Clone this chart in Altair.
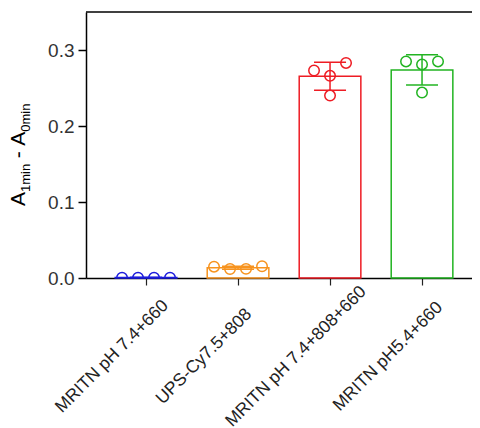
import altair as alt
import pandas as pd

groups = ["MRITN pH 7.4+660", "UPS-Cy7.5+808", "MRITN pH 7.4+808+660", "MRITN pH5.4+660"]
colors = ["#1c1cdc", "#f7931e", "#ee1c24", "#22b422"]
blue_vals = [0.0005, 0.0005, 0.0005, 0.0005]
orange_vals = [0.0149, 0.0118, 0.0120, 0.0155]
red_vals = [0.273, 0.266, 0.283, 0.240]
green_vals = [0.285, 0.281, 0.285, 0.244]
jit_spread = [-1.5, -0.5, 0.5, 1.5]
jit_center = [-1, 0, 1, 0]
y_ticks = [0.0, 0.1, 0.2, 0.3]

rows = []
for g, vals, jit in zip(groups, [blue_vals, orange_vals, red_vals, green_vals],
                        [jit_spread, jit_spread, jit_center, jit_center]):
    for v, j in zip(vals, jit):
        rows.append({"group": g, "value": v, "jit": j})
df = pd.DataFrame(rows)

W, H = 386, 266
FONT = "Liberation Sans"

yscale = alt.Scale(domain=[0, 0.35], nice=False, zero=True)
xscale = alt.Scale(domain=groups, paddingInner=0.33, paddingOuter=0.2628, align=0.604)
color = alt.Color("group:N", scale=alt.Scale(domain=groups, range=colors), legend=None)

xaxis = alt.Axis(title=None, labelAngle=-45, labelAlign="center", labelBaseline="middle",
                 labelOffset=-34, labelPadding=71, labelFontSize=17.5, labelFont=FONT,
                 labelColor="#222", domainColor="black", domainWidth=1.5, labelLimit=0,
                 tickColor="#222", tickWidth=1.2, tickSize=7, labelOverlap=False)
yaxis = alt.Axis(title=None, values=y_ticks, format=".1f", labelFontSize=19, labelFont=FONT,
                 labelColor="#333", domainColor="black", domainWidth=1.5,
                 tickColor="black", tickWidth=1.5, tickSize=8, labelPadding=4, grid=False)

X = alt.X("group:N", sort=groups, scale=xscale, axis=xaxis)

base = alt.Chart(df)

bars = base.mark_bar(fillOpacity=0, strokeWidth=1.5).encode(
    x=X,
    y=alt.Y("mean(value):Q", scale=yscale, axis=yaxis),
    stroke=alt.Stroke("group:N", scale=alt.Scale(domain=groups, range=colors), legend=None),
)

err = base.transform_aggregate(
    m="mean(value)", sd="stdev(value)", groupby=["group"]
).transform_calculate(lo="datum.m - datum.sd", hi="datum.m + datum.sd")

err_rule = err.mark_rule(strokeWidth=1.5).encode(
    x=X, y=alt.Y("lo:Q", scale=yscale, axis=yaxis), y2="hi:Q", color=color)
cap_lo = err.mark_tick(size=32, thickness=1.5, opacity=1).encode(
    x=X, y=alt.Y("lo:Q", scale=yscale, axis=yaxis), color=color)
cap_hi = err.mark_tick(size=32, thickness=1.5, opacity=1).encode(
    x=X, y=alt.Y("hi:Q", scale=yscale, axis=yaxis), color=color)

points = base.mark_point(shape="circle", filled=False, size=110, strokeWidth=1.5, opacity=1,
                         clip=True, xOffset=alt.expr("datum.jit * 16")).encode(
    x=X,
    y=alt.Y("value:Q", scale=yscale, axis=yaxis),
    color=color,
)

top_line = alt.Chart(pd.DataFrame({"a": [0]})).mark_rule(color="black", strokeWidth=1.5).encode(
    x=alt.value(0), x2=alt.value(W), y=alt.value(0))

def title_part(txt, size, x, y):
    return alt.Chart(pd.DataFrame({"t": [txt]})).mark_text(
        angle=270, align="left", baseline="alphabetic", fontSize=size, font=FONT, color="black"
    ).encode(text="t:N", x=alt.value(x), y=alt.value(y))

bx = -61
y0 = 194
t1 = title_part("A", 21, bx, y0)
t2 = title_part("1min", 13, bx + 5, y0 - 14)
t3 = title_part("-", 21, bx, y0 - 14 - 28.2 - 5.5)
t4 = title_part("A", 21, bx, y0 - 14 - 28.2 - 5.5 - 7 - 5.5)
t5 = title_part("0min", 13, bx + 5, y0 - 14 - 28.2 - 5.5 - 7 - 5.5 - 14)

chart = alt.layer(bars, err_rule, cap_lo, cap_hi, points, top_line, t1, t2, t3, t4, t5).properties(
    width=W, height=H,
    autosize=alt.AutoSizeParams(type="none"),
    padding={"left": 78, "top": 4, "right": 0, "bottom": 150},
).configure_view(stroke=None)

chart.save("out.html", embed_options={"renderer": "svg", "actions": False})
